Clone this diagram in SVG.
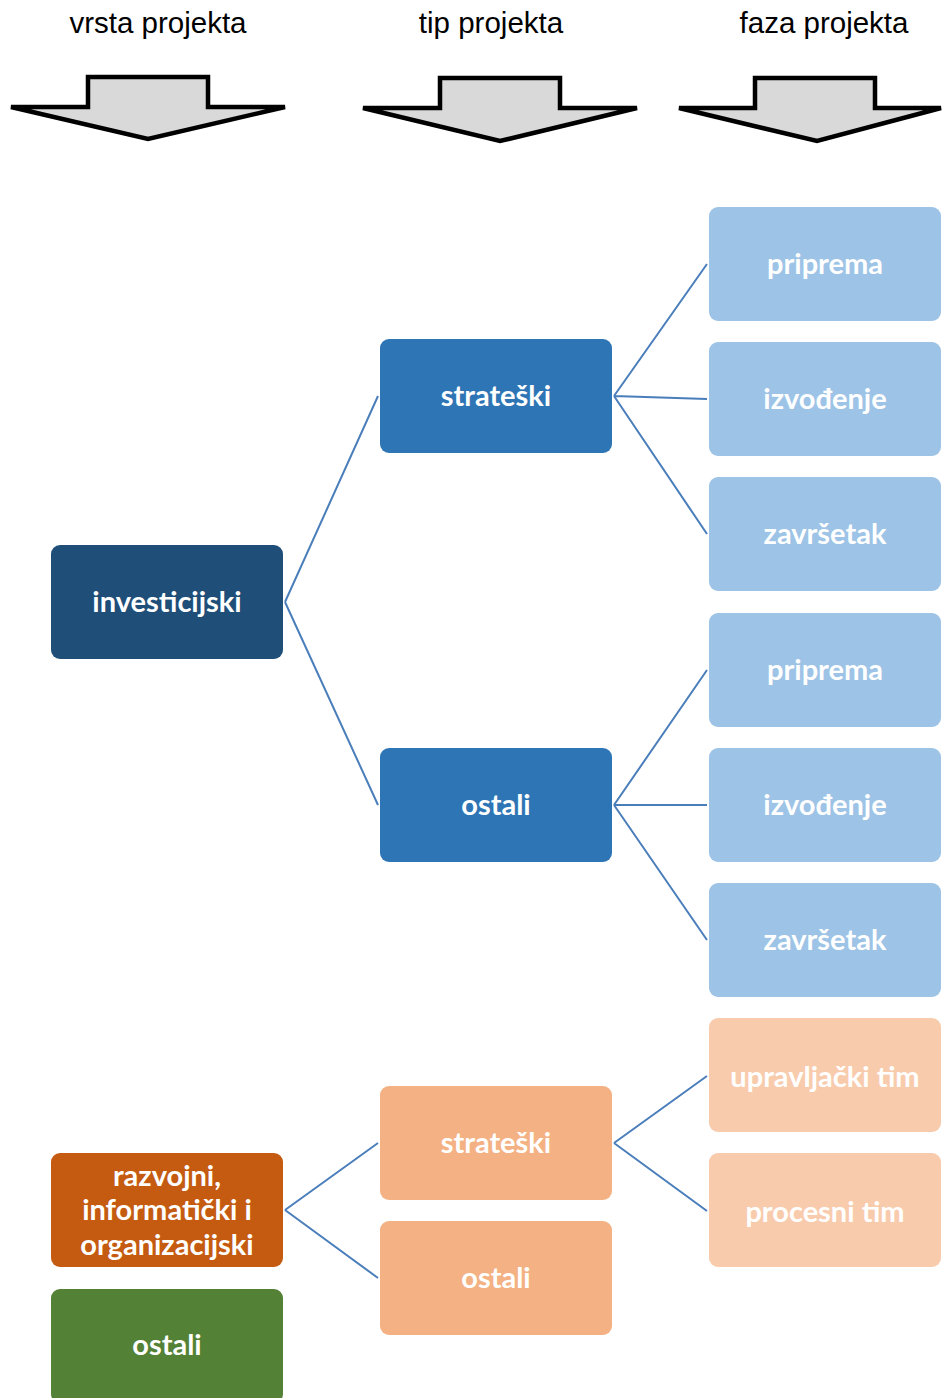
<svg xmlns="http://www.w3.org/2000/svg" width="942" height="1398" viewBox="0 0 942 1398">
<style>
.hdr{font-family:"Liberation Sans",Arial,sans-serif;font-size:29.5px;fill:#000;text-anchor:middle}
.arr{fill:#d9d9d9;stroke:#000;stroke-width:4.5;stroke-linejoin:miter}
.n{font-family:Lato,"Open Sans",sans-serif;font-weight:700;font-size:29px;fill:#fff;text-anchor:middle;dominant-baseline:central}
.c{stroke:#4a7ebb;stroke-width:2;fill:none}
.d1{fill:#1f4e79}.d2{fill:#2e75b6}.d3{fill:#9dc3e6}
.p1{fill:#c55a11}.p2{fill:#f4b183}.p3{fill:#f8cbad}.g{fill:#538135}
</style>
<g id="headers">
<text class="hdr" x="158" y="33">vrsta projekta</text>
<text class="hdr" x="491" y="33">tip projekta</text>
<text class="hdr" x="824" y="33">faza projekta</text>
</g>
<g id="arrows">
<polygon class="arr" points="88,77 208,77 208,107 285,107 148,139 11,107 88,107"/>
<polygon class="arr" points="440,78 560,78 560,108 637,108 500,141 363,108 440,108"/>
<polygon class="arr" points="755,78 875,78 875,108 941,108 817,141 679,108 755,108"/>
</g>
<g id="connectors">
<path class="c" d="M285,602 L378,396 M285,602 L378,805"/>
<path class="c" d="M614,396 L707,264 M614,396 L707,399 M614,396 L707,534"/>
<path class="c" d="M614,805 L707,670 M614,805 L707,805 M614,805 L707,940"/>
<path class="c" d="M285,1210 L378,1143 M285,1210 L378,1278"/>
<path class="c" d="M614,1143 L707,1076 M614,1143 L707,1211"/>
</g>
<g id="n-investicijski"><rect class="d1" x="51" y="545" width="232" height="114" rx="9"/><text class="n" x="167" y="600">investicijski</text></g>
<g id="n-strateski1"><rect class="d2" x="380" y="339" width="232" height="114" rx="9"/><text class="n" x="496" y="394">strateški</text></g>
<g id="n-ostali1"><rect class="d2" x="380" y="748" width="232" height="114" rx="9"/><text class="n" x="496" y="803">ostali</text></g>
<g id="n-priprema1"><rect class="d3" x="709" y="207" width="232" height="114" rx="9"/><text class="n" x="825" y="262">priprema</text></g>
<g id="n-izvodjenje1"><rect class="d3" x="709" y="342" width="232" height="114" rx="9"/><text class="n" x="825" y="397">izvođenje</text></g>
<g id="n-zavrsetak1"><rect class="d3" x="709" y="477" width="232" height="114" rx="9"/><text class="n" x="825" y="532">završetak</text></g>
<g id="n-priprema2"><rect class="d3" x="709" y="613" width="232" height="114" rx="9"/><text class="n" x="825" y="668">priprema</text></g>
<g id="n-izvodjenje2"><rect class="d3" x="709" y="748" width="232" height="114" rx="9"/><text class="n" x="825" y="803">izvođenje</text></g>
<g id="n-zavrsetak2"><rect class="d3" x="709" y="883" width="232" height="114" rx="9"/><text class="n" x="825" y="938">završetak</text></g>
<g id="n-razvojni"><rect class="p1" x="51" y="1153" width="232" height="114" rx="9"/><text class="n" x="167" y="1174">razvojni,</text><text class="n" x="167" y="1208">informatički i</text><text class="n" x="167" y="1243">organizacijski</text></g>
<g id="n-ostali-green"><rect class="g" x="51" y="1289" width="232" height="114" rx="9"/><text class="n" x="167" y="1343">ostali</text></g>
<g id="n-strateski2"><rect class="p2" x="380" y="1086" width="232" height="114" rx="9"/><text class="n" x="496" y="1141">strateški</text></g>
<g id="n-ostali2"><rect class="p2" x="380" y="1221" width="232" height="114" rx="9"/><text class="n" x="496" y="1276">ostali</text></g>
<g id="n-upravljacki"><rect class="p3" x="709" y="1018" width="232" height="114" rx="9"/><text class="n" x="825" y="1075">upravljački tim</text></g>
<g id="n-procesni"><rect class="p3" x="709" y="1153" width="232" height="114" rx="9"/><text class="n" x="825" y="1210">procesni tim</text></g>
</svg>
